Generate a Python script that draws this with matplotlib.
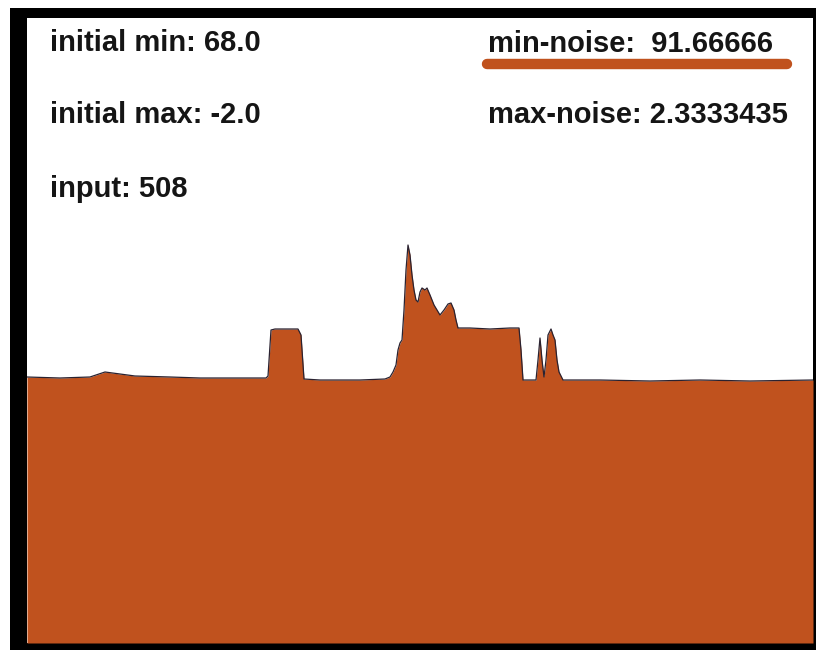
import matplotlib
matplotlib.use("Agg")
import matplotlib.pyplot as plt
from matplotlib.patches import Rectangle
from matplotlib.lines import Line2D

# ---- data ----
positions = [0, 33, 63, 78, 93, 108, 143, 173, 213, 239, 241, 244, 248, 271, 274, 277,
             293, 333, 358, 363, 366, 369, 371, 373, 375, 377, 379, 381, 383, 385, 387,
             389, 391, 393, 395, 398, 400, 403, 407, 413, 417, 421, 424, 427, 429, 431,
             443, 463, 483, 492, 494, 496, 509, 511, 513, 515, 517, 519, 521, 524, 526,
             528, 530, 532, 536, 573, 623, 673, 723, 786]
levels = [266, 265, 266, 271, 269, 267, 266, 265, 265, 265, 267, 313, 314, 314, 308, 264,
          263, 263, 264, 266, 271, 278, 293, 300, 303, 333, 373, 398, 388, 368, 353,
          343, 341, 351, 355, 353, 355, 348, 338, 328, 333, 339, 340, 333, 323, 315,
          315, 314, 315, 315, 293, 263, 263, 283, 305, 283, 266, 283, 308, 314, 308,
          303, 283, 271, 263, 263, 262, 263, 262, 263]

labels_left = ["initial min: 68.0", "initial max: -2.0", "input: 508"]
labels_right = ["min-noise:  91.66666", "max-noise: 2.3333435"]

W, H = 816, 650
ORANGE = "#C0521E"

fig = plt.figure(figsize=(W / 100, H / 100), dpi=100)
fig.patch.set_facecolor("white")

# black frame
fig.patches.append(Rectangle((10 / W, 0), (W - 10) / W, (H - 8) / H,
                             transform=fig.transFigure, facecolor="black",
                             edgecolor="none", zorder=-10))

ax = fig.add_axes([27 / W, 7 / H, 786 / W, 625 / H])
ax.set_zorder(1)
ax.set_facecolor("white")
ax.fill_between(positions, levels, 0, color=ORANGE, linewidth=0)
ax.plot(positions, levels, color="#2a2230", linewidth=0.9)
ax.set_xlim(0, 786)
ax.set_ylim(0, 625)
ax.set_xticks([])
ax.set_yticks([])
for s in ax.spines.values():
    s.set_visible(False)

font = dict(family="Liberation Sans", weight="bold", size=21, color="#151515")

def px(x, y):
    return x / W, 1 - y / H

baselines_left = [51, 123, 197]
for lab, b in zip(labels_left, baselines_left):
    ax.text(*px(50, b), lab, ha="left", va="baseline", transform=fig.transFigure,
            zorder=5, **font)

baselines_right = [52, 123]
for lab, b in zip(labels_right, baselines_right):
    ax.text(*px(488, b), lab, ha="left", va="baseline", transform=fig.transFigure,
            zorder=5, **font)

# orange underline under min-noise
x0, y0 = px(487, 63.5)
x1, y1 = px(787, 63.5)
ax.add_line(Line2D([x0, x1], [y0, y1], transform=fig.transFigure,
                   color=ORANGE, linewidth=7.5, solid_capstyle="round", zorder=5))

fig.savefig("out.png", dpi=100, facecolor="white")
